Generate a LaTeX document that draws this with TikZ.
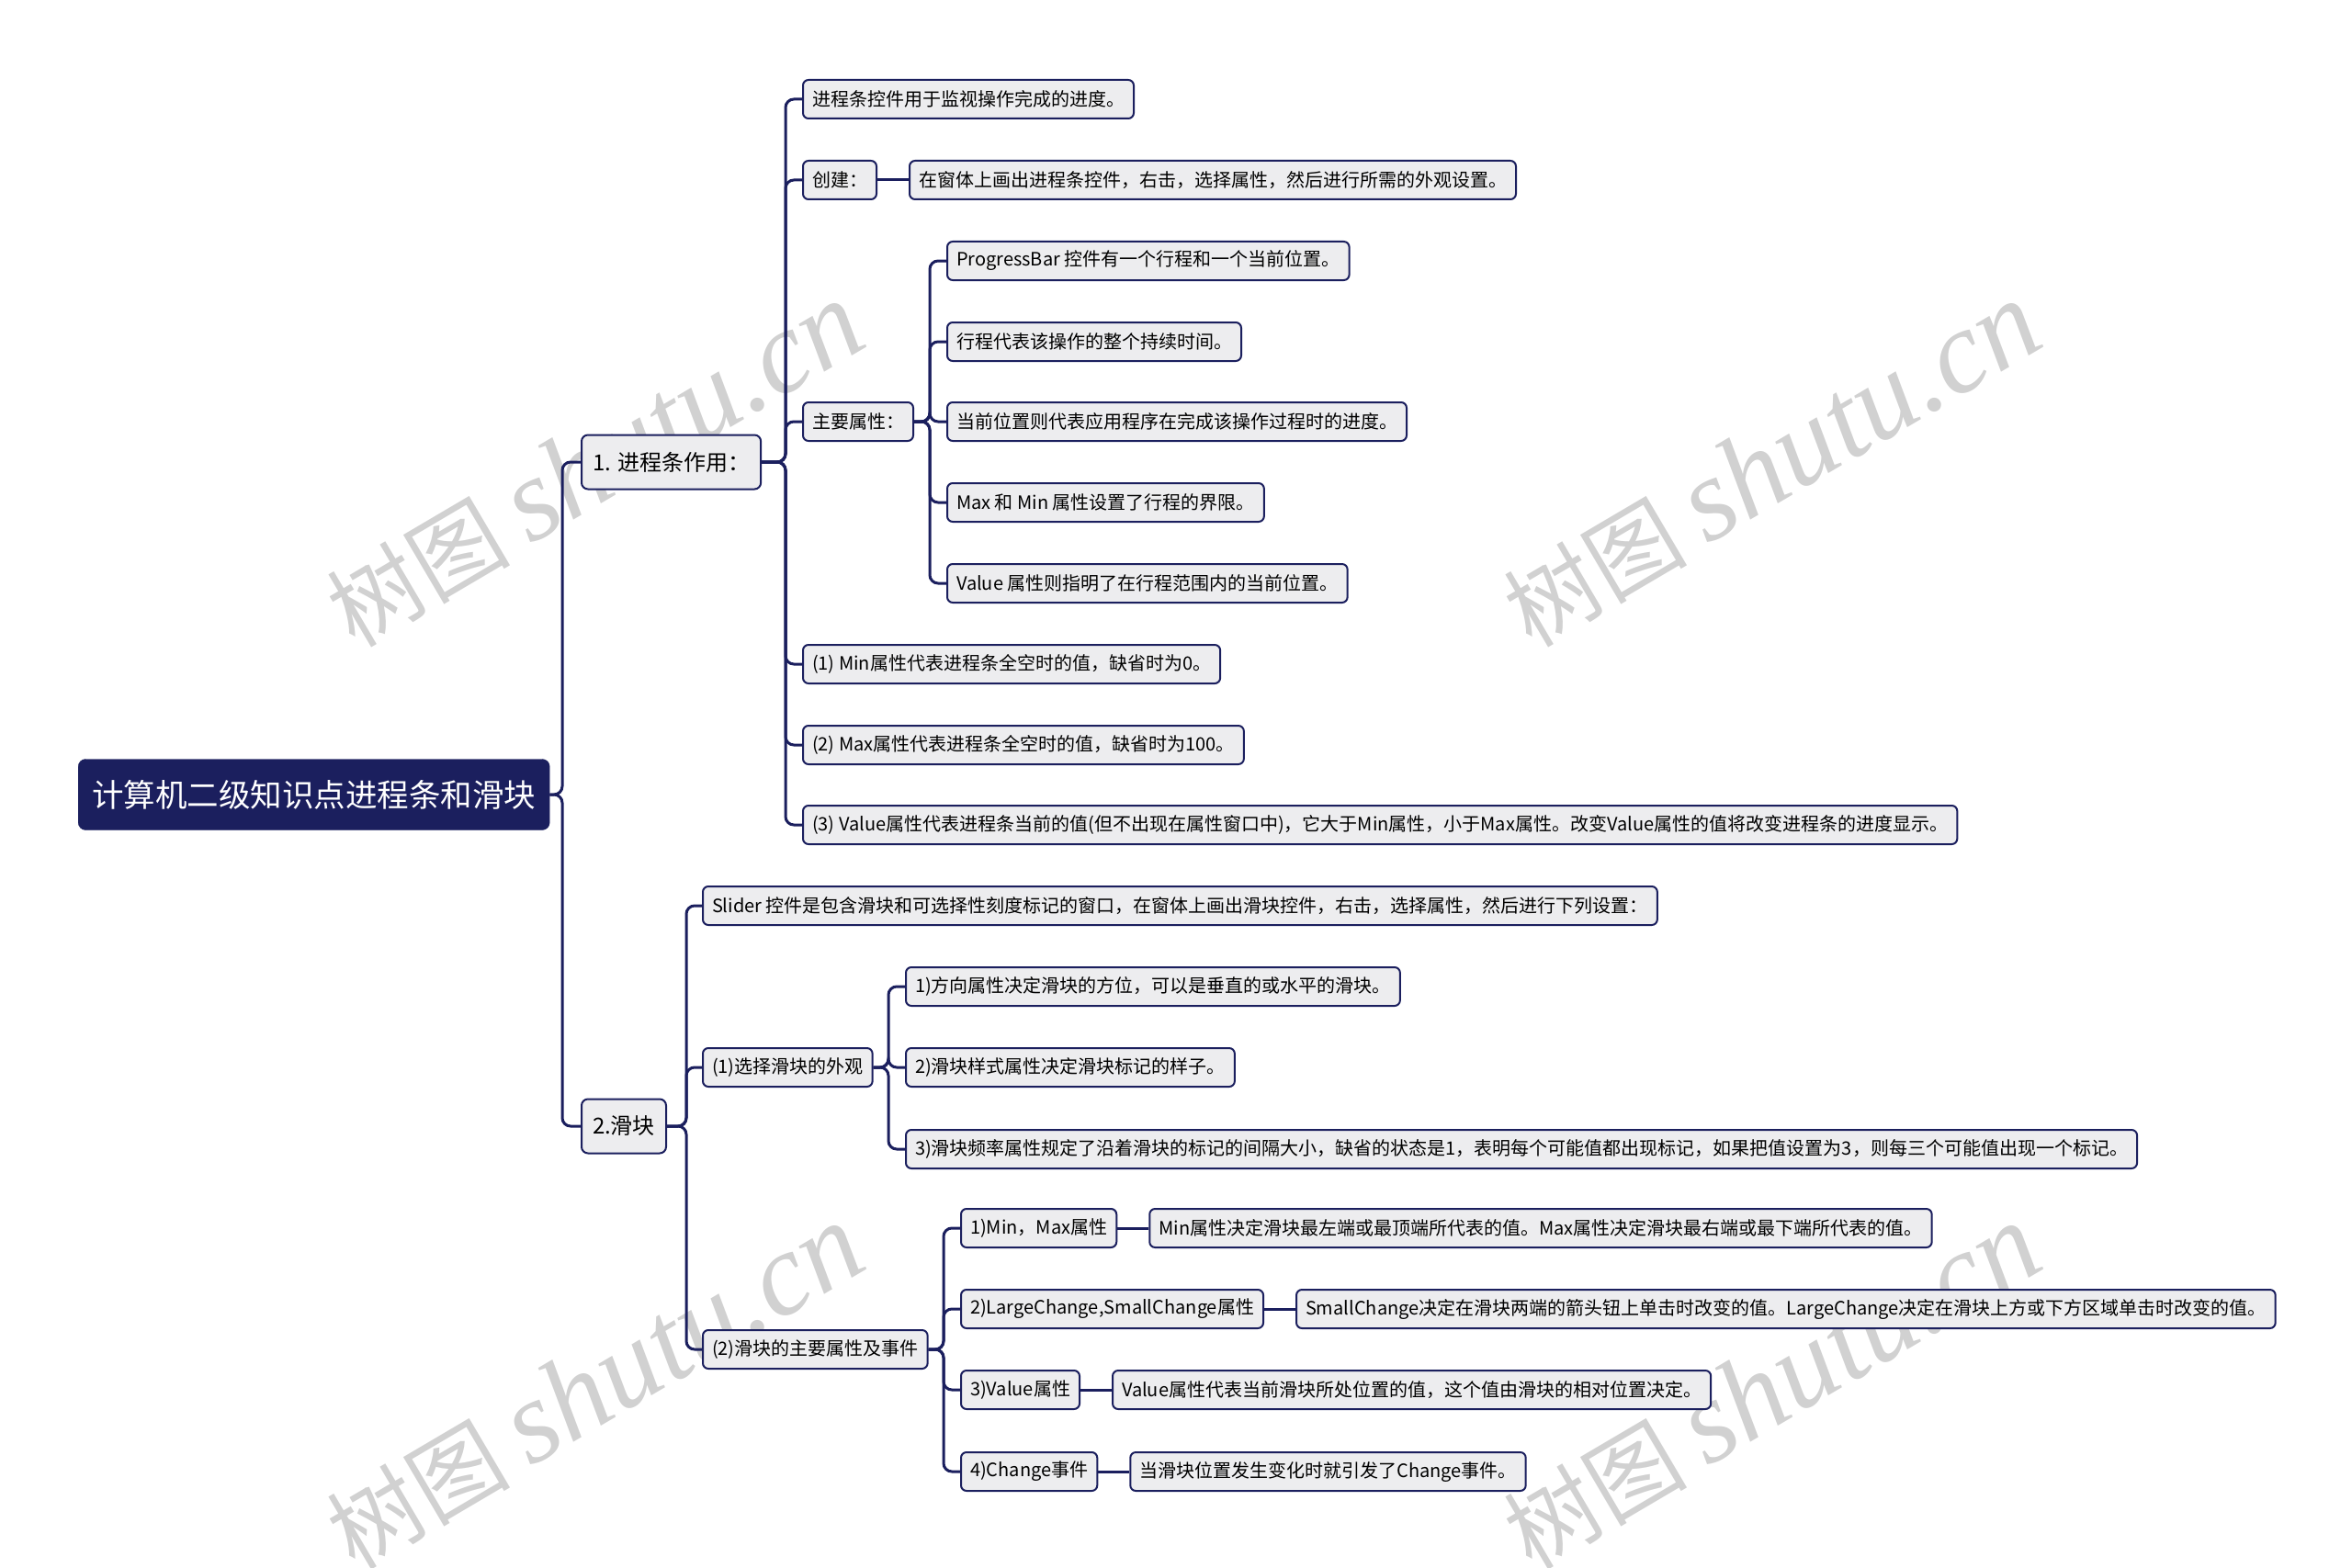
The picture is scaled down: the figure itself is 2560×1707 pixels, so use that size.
\documentclass[tikz,border=0pt]{standalone}
\usepackage{fontspec}
\setmainfont{Noto Sans CJK SC}
\newfontfamily\wmcjk{Noto Sans CJK SC}
\newfontfamily\wmlatin{Liberation Serif}
\usepackage{xcolor}
\usetikzlibrary{positioning}

\definecolor{navy}{HTML}{1B1F5E}
\definecolor{boxgray}{HTML}{EDEDEF}

\begin{document}
\begin{tikzpicture}[
  x=1pt, y=-1pt,
  node distance=34pt,
  root/.style={draw=navy, fill=navy, text=white, rounded corners=8pt, anchor=west, minimum height=77pt, inner xsep=15pt, font=\fontsize{34.5}{38}\selectfont},
  topic/.style={draw=navy, line width=2pt, fill=boxgray, rounded corners=7pt, anchor=west, minimum height=59pt, inner xsep=12pt, font=\fontsize{24}{28}\selectfont},
  leaf/.style={draw=navy, line width=2pt, fill=boxgray, rounded corners=6pt, anchor=west, minimum height=42pt, inner xsep=10pt, font=\fontsize{20}{24}\selectfont},
  link/.style={draw=navy, line width=3pt, rounded corners=9pt},
  wm/.style={rotate=30.5, text=black!18},
]
\useasboundingbox (0,0) rectangle (2560,1707);

% watermark (behind everything)
\node[wm] (wm1) at (647,506) {{\wmcjk\fontsize{100}{100}\selectfont 树图}\hspace{22pt}{\wmlatin\itshape\fontsize{128}{128}\selectfont shutu.cn}};
\node[wm] (wm2) at (1928,506) {{\wmcjk\fontsize{100}{100}\selectfont 树图}\hspace{22pt}{\wmlatin\itshape\fontsize{128}{128}\selectfont shutu.cn}};
\node[wm] (wm3) at (647,1510) {{\wmcjk\fontsize{100}{100}\selectfont 树图}\hspace{22pt}{\wmlatin\itshape\fontsize{128}{128}\selectfont shutu.cn}};
\node[wm] (wm4) at (1928,1510) {{\wmcjk\fontsize{100}{100}\selectfont 树图}\hspace{22pt}{\wmlatin\itshape\fontsize{128}{128}\selectfont shutu.cn}};

\node[root] (root) at (85,865) {计算机二级知识点进程条和滑块};
\node[topic] (bar) at (632,503) {1. 进程条作用：};
\node[topic] (sld) at (632,1226) {2.滑块};

% progress bar
\node[leaf] (bar1) at (873,108) {进程条控件用于监视操作完成的进度。};
\node[leaf] (bar2) at (873,196) {创建：};
\node[leaf, right=of bar2] (bar2a) {在窗体上画出进程条控件，右击，选择属性，然后进行所需的外观设置。};
\node[leaf] (bar3) at (873,459) {主要属性：};
\node[leaf] (prop1) at (1030,284) {ProgressBar 控件有一个行程和一个当前位置。};
\node[leaf] (prop2) at (1030,372) {行程代表该操作的整个持续时间。};
\node[leaf] (prop3) at (1030,459) {当前位置则代表应用程序在完成该操作过程时的进度。};
\node[leaf] (prop4) at (1030,547) {Max 和 Min 属性设置了行程的界限。};
\node[leaf] (prop5) at (1030,635) {Value 属性则指明了在行程范围内的当前位置。};
\node[leaf] (bar4) at (873,723) {(1) Min属性代表进程条全空时的值，缺省时为0。};
\node[leaf] (bar5) at (873,811) {(2) Max属性代表进程条全空时的值，缺省时为100。};
\node[leaf] (bar6) at (873,898) {(3) Value属性代表进程条当前的值(但不出现在属性窗口中)，它大于Min属性，小于Max属性。改变Value属性的值将改变进程条的进度显示。};

% slider
\node[leaf] (sld1) at (764,986) {Slider 控件是包含滑块和可选择性刻度标记的窗口，在窗体上画出滑块控件，右击，选择属性，然后进行下列设置：};
\node[leaf] (sld2) at (764,1162) {(1)选择滑块的外观};
\node[leaf] (look1) at (985,1074) {1)方向属性决定滑块的方位，可以是垂直的或水平的滑块。};
\node[leaf] (look2) at (985,1162) {2)滑块样式属性决定滑块标记的样子。};
\node[leaf] (look3) at (985,1251) {3)滑块频率属性规定了沿着滑块的标记的间隔大小，缺省的状态是1，表明每个可能值都出现标记，如果把值设置为3，则每三个可能值出现一个标记。};
\node[leaf] (sld3) at (764,1469) {(2)滑块的主要属性及事件};
\node[leaf] (attr1) at (1045,1337) {1)Min，Max属性};
\node[leaf, right=of attr1] (attr1a) {Min属性决定滑块最左端或最顶端所代表的值。Max属性决定滑块最右端或最下端所代表的值。};
\node[leaf] (attr2) at (1045,1425) {2)LargeChange,SmallChange属性};
\node[leaf, right=of attr2] (attr2a) {SmallChange决定在滑块两端的箭头钮上单击时改变的值。LargeChange决定在滑块上方或下方区域单击时改变的值。};
\node[leaf] (attr3) at (1045,1513) {3)Value属性};
\node[leaf, right=of attr3] (attr3a) {Value属性代表当前滑块所处位置的值，这个值由滑块的相对位置决定。};
\node[leaf] (attr4) at (1045,1602) {4)Change事件};
\node[leaf, right=of attr4] (attr4a) {当滑块位置发生变化时就引发了Change事件。};

% connectors
\draw[link] (root.east) -- ([xshift=-20pt]bar.west |- root.east) |- (bar.west);
\draw[link] (root.east) -- ([xshift=-20pt]sld.west |- root.east) |- (sld.west);
\draw[link] (bar.east) -- ([xshift=-18pt]bar1.west |- bar.east) |- (bar1.west);
\draw[link] (bar.east) -- ([xshift=-18pt]bar2.west |- bar.east) |- (bar2.west);
\draw[link] (bar.east) -- ([xshift=-18pt]bar3.west |- bar.east) |- (bar3.west);
\draw[link] (bar.east) -- ([xshift=-18pt]bar4.west |- bar.east) |- (bar4.west);
\draw[link] (bar.east) -- ([xshift=-18pt]bar5.west |- bar.east) |- (bar5.west);
\draw[link] (bar.east) -- ([xshift=-18pt]bar6.west |- bar.east) |- (bar6.west);
\draw[link] (bar2) -- (bar2a);
\draw[link] (bar3.east) -- ([xshift=-18pt]prop1.west |- bar3.east) |- (prop1.west);
\draw[link] (bar3.east) -- ([xshift=-18pt]prop2.west |- bar3.east) |- (prop2.west);
\draw[link] (bar3.east) -- ([xshift=-18pt]prop3.west |- bar3.east) |- (prop3.west);
\draw[link] (bar3.east) -- ([xshift=-18pt]prop4.west |- bar3.east) |- (prop4.west);
\draw[link] (bar3.east) -- ([xshift=-18pt]prop5.west |- bar3.east) |- (prop5.west);
\draw[link] (sld.east) -- ([xshift=-17pt]sld1.west |- sld.east) |- (sld1.west);
\draw[link] (sld.east) -- ([xshift=-17pt]sld2.west |- sld.east) |- (sld2.west);
\draw[link] (sld.east) -- ([xshift=-17pt]sld3.west |- sld.east) |- (sld3.west);
\draw[link] (sld2.east) -- ([xshift=-18pt]look1.west |- sld2.east) |- (look1.west);
\draw[link] (sld2.east) -- ([xshift=-18pt]look2.west |- sld2.east) |- (look2.west);
\draw[link] (sld2.east) -- ([xshift=-18pt]look3.west |- sld2.east) |- (look3.west);
\draw[link] (sld3.east) -- ([xshift=-18pt]attr1.west |- sld3.east) |- (attr1.west);
\draw[link] (sld3.east) -- ([xshift=-18pt]attr2.west |- sld3.east) |- (attr2.west);
\draw[link] (sld3.east) -- ([xshift=-18pt]attr3.west |- sld3.east) |- (attr3.west);
\draw[link] (sld3.east) -- ([xshift=-18pt]attr4.west |- sld3.east) |- (attr4.west);
\draw[link] (attr1) -- (attr1a);
\draw[link] (attr2) -- (attr2a);
\draw[link] (attr3) -- (attr3a);
\draw[link] (attr4) -- (attr4a);
\end{tikzpicture}
\end{document}
